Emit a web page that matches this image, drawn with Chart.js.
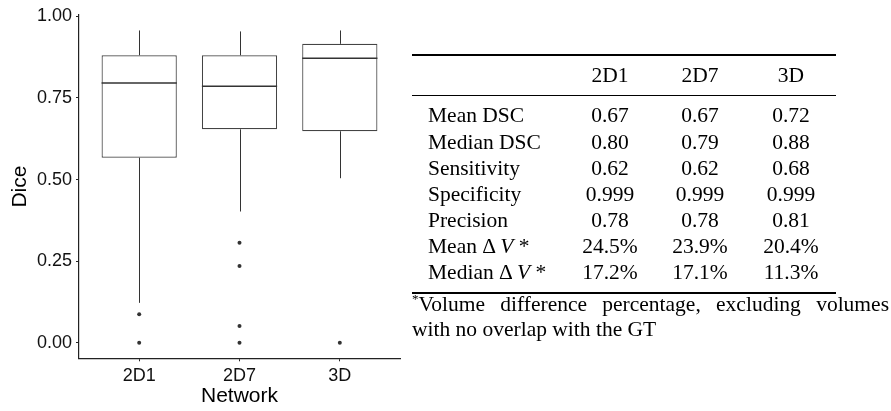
<!DOCTYPE html>
<html>
<head>
<meta charset="utf-8">
<script src="https://cdn.jsdelivr.net/npm/chart.js@4/dist/chart.umd.min.js"></script>
<style>
  body { margin: 0; background: #fff; width: 891px; height: 411px; overflow: hidden; position: relative; }
  #chartBox { position: absolute; left: 0; top: 0; width: 404px; height: 411px; }
  #table { position: absolute; left: 0; top: 0; width: 891px; height: 411px; font-family: "Liberation Serif", "Times New Roman", serif; color: #000; }
  .rule { position: absolute; left: 412px; width: 424px; background: #000; }
  .cell { position: absolute; font-size: 21.5px; line-height: 26px; height: 26px; white-space: nowrap; }
  .num { width: 120px; margin-left: -60px; text-align: center; }
  #note { position: absolute; left: 412px; top: 292px; width: 477px; font-size: 21.5px; line-height: 24.5px; }
  #note .l1 { text-align: justify; text-align-last: justify; white-space: nowrap; }
  #note sup { font-size: 13px; line-height: 0; }
</style>
</head>
<body>
<div id="chartBox"><canvas id="boxChart" width="404" height="411"></canvas></div>
<div id="table"></div>
<script>
// box plot values (Dice per network)
const networks = ["2D1", "2D7", "3D"];
const whiskerLow = [0.122, 0.402, 0.504];
const q1 = [0.567, 0.654, 0.648];
const medians = [0.796, 0.786, 0.872];
const q3 = [0.881, 0.881, 0.916];
const whiskerHigh = [0.957, 0.954, 0.957];
const outlierValues = [[0.087, 0.0], [0.306, 0.235, 0.051, 0.0], [0.0]];
const yTicks = [0, 0.25, 0.5, 0.75, 1];
const yTickLabels = ["0.00", "0.25", "0.50", "0.75", "1.00"];

// table values
const tableCols = ["2D1", "2D7", "3D"];
const rowLabels = ["Mean DSC", "Median DSC", "Sensitivity", "Specificity", "Precision", "Mean &Delta; <i>V</i> *", "Median &Delta; <i>V</i> *"];
const meanDSC = ["0.67", "0.67", "0.72"];
const medianDSC = ["0.80", "0.79", "0.88"];
const sensitivity = ["0.62", "0.62", "0.68"];
const specificity = ["0.999", "0.999", "0.999"];
const precision = ["0.78", "0.78", "0.81"];
const meanDeltaV = ["24.5%", "23.9%", "20.4%"];
const medianDeltaV = ["17.2%", "17.1%", "11.3%"];
const tableValues = [meanDSC, medianDSC, sensitivity, specificity, precision, meanDeltaV, medianDeltaV];

const boxData = networks.map((n, i) => ({ x: i + 1, y: [q1[i], q3[i]] }));
const outlierData = [];
outlierValues.forEach((vals, i) => vals.forEach(v => outlierData.push({ x: i + 1, y: v })));

const boxLines = {
  id: "boxLines",
  afterDatasetsDraw(chart) {
    const { ctx, scales: { x, y } } = chart;
    const bars = chart.getDatasetMeta(0).data;
    ctx.save();
    networks.forEach((n, i) => {
      const cx = Math.round(x.getPixelForValue(i + 1)) + 0.5;
      const half = bars[i].width / 2;
      ctx.strokeStyle = "#333";
      ctx.lineWidth = 1;
      ctx.beginPath();
      ctx.moveTo(cx, y.getPixelForValue(q3[i]));
      ctx.lineTo(cx, y.getPixelForValue(whiskerHigh[i]));
      ctx.moveTo(cx, y.getPixelForValue(q1[i]));
      ctx.lineTo(cx, y.getPixelForValue(whiskerLow[i]));
      ctx.stroke();
      const ym = y.getPixelForValue(medians[i]);
      ctx.lineWidth = 1.6;
      ctx.beginPath();
      ctx.moveTo(bars[i].x - half, ym);
      ctx.lineTo(bars[i].x + half, ym);
      ctx.stroke();
    });
    ctx.restore();
  }
};

const tickFont = { family: "'Liberation Sans', Arial, sans-serif", size: 18 };
const titleFont = { family: "'Liberation Sans', Arial, sans-serif", size: 21 };

new Chart(document.getElementById("boxChart"), {
  data: {
    datasets: [
      {
        type: "bar",
        data: boxData,
        backgroundColor: "#fff",
        borderColor: "#444",
        borderWidth: 1.2,
        borderSkipped: false,
        barPercentage: 0.75,
        categoryPercentage: 1
      },
      {
        type: "scatter",
        data: outlierData,
        pointRadius: 2,
        pointBackgroundColor: "#333",
        pointBorderWidth: 0
      }
    ]
  },
  options: {
    responsive: false,
    animation: false,
    layout: { padding: { top: 14, left: 0, right: 0, bottom: 0 } },
    plugins: { legend: { display: false }, tooltip: { enabled: false } },
    scales: {
      x: {
        type: "linear",
        min: 0.4,
        max: 3.6,
        offset: false,
        afterBuildTicks: s => { s.ticks = networks.map((n, i) => ({ value: i + 1 })); },
        afterFit: s => { s.height = 52.7; },
        ticks: { callback: v => networks[v - 1], font: tickFont, color: "#111", padding: 4, maxRotation: 0 },
        grid: { offset: false, drawOnChartArea: false, drawTicks: true, tickLength: 3, color: "#222" },
        border: { color: "#222", width: 1.2 },
        title: { display: true, text: "Network", font: titleFont, color: "#000", padding: { top: 0, bottom: 2 } }
      },
      y: {
        min: -0.048,
        max: 1.005,
        afterBuildTicks: s => { s.ticks = yTicks.map(v => ({ value: v })); },
        afterFit: s => { s.width = 79; },
        ticks: { callback: (v, i) => yTickLabels[i], font: tickFont, color: "#111", padding: 4 },
        grid: { drawOnChartArea: false, drawTicks: true, tickLength: 3, color: "#222" },
        border: { color: "#222", width: 1.2 },
        title: { display: true, text: "Dice", font: titleFont, color: "#000", padding: { top: 8, bottom: 0 } }
      }
    }
  },
  plugins: [boxLines]
});

// table on the right
const colX = [610, 700, 791];
let html = "";
html += '<div class="rule" style="top:54px;height:2px"></div>';
html += '<div class="rule" style="top:95px;height:1px"></div>';
html += '<div class="rule" style="top:292px;height:2px"></div>';
tableCols.forEach((c, j) => {
  html += '<div class="cell num" style="top:62px;left:' + colX[j] + 'px">' + c + '</div>';
});
rowLabels.forEach((lab, r) => {
  const top = 102.4 + r * 26.1;
  html += '<div class="cell" style="top:' + top + 'px;left:428px">' + lab + '</div>';
  tableValues[r].forEach((v, j) => {
    html += '<div class="cell num" style="top:' + top + 'px;left:' + colX[j] + 'px">' + v + '</div>';
  });
});
html += '<div id="note"><div class="l1"><sup>*</sup>Volume difference percentage, excluding volumes</div><div>with no overlap with the GT</div></div>';
document.getElementById("table").innerHTML = html;
</script>
</body>
</html>
